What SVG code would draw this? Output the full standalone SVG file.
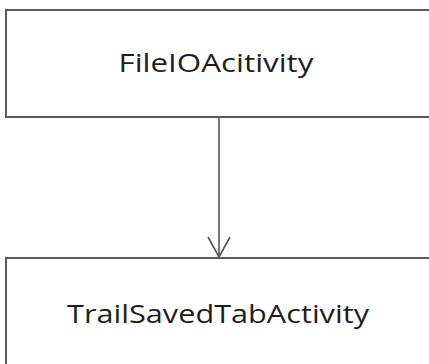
<svg xmlns="http://www.w3.org/2000/svg" width="429" height="364" viewBox="0 0 429 364">
<style>
.box{fill:#ffffff;stroke:#5a5a5a;stroke-width:2}
.lbl{font-family:"Open Sans","Noto Sans",sans-serif;font-size:26px;fill:#1e1e1e;text-anchor:middle}
.edge{stroke:#555555;stroke-width:1.6;fill:none}
</style>
<rect width="429" height="364" fill="#ffffff"/>
<g id="connectors">
<line class="edge" x1="219" y1="117" x2="219" y2="257"/>
<polyline class="edge" points="208,237 219,257 230,237"/>
</g>
<g id="node-fileio">
<rect class="box" x="6" y="10" width="440" height="107"/>
<text class="lbl" x="216" y="72" textLength="195" lengthAdjust="spacingAndGlyphs">FileIOAcitivity</text>
</g>
<g id="node-trail">
<rect class="box" x="6" y="258" width="440" height="120"/>
<text class="lbl" x="218" y="323" textLength="302" lengthAdjust="spacingAndGlyphs">TrailSavedTabActivity</text>
</g>
</svg>
